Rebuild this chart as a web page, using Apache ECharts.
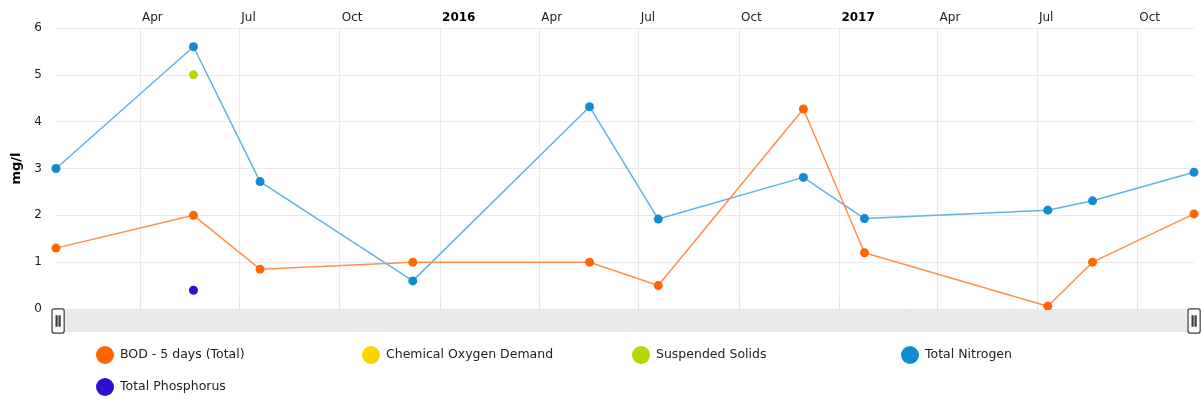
<!DOCTYPE html>
<html>
<head>
<meta charset="utf-8">
<script src="https://cdn.jsdelivr.net/npm/echarts@6/dist/echarts.min.js"></script>
<style>
html,body{margin:0;padding:0;background:#fff;}
#chart{width:1202px;height:401px;}
</style>
</head>
<body>
<div id="chart"></div>
<script>
// Sample dates shared by BOD and Total Nitrogen
var sampleDates = ['2015-01-14','2015-05-20','2015-07-20','2015-12-07','2016-05-17','2016-07-19','2016-11-29','2017-01-24','2017-07-11','2017-08-21','2017-11-22'];
var bodValues = [1.3, 2.0, 0.85, 1.0, 1.0, 0.5, 4.27, 1.2, 0.06, 1.0, 2.03];
var nitrogenValues = [3.0, 5.6, 2.72, 0.6, 4.32, 1.92, 2.81, 1.93, 2.11, 2.31, 2.92];
var codDates = [];
var codValues = [];
var ssDates = ['2015-05-20'];
var ssValues = [5.0];
var tpDates = ['2015-05-20'];
var tpValues = [0.4];
var seriesNames = ['BOD - 5 days (Total)','Chemical Oxygen Demand','Suspended Solids','Total Nitrogen','Total Phosphorus'];
var monthNames = ['Jan','Feb','Mar','Apr','May','Jun','Jul','Aug','Sep','Oct','Nov','Dec'];
var yTicks = [0,1,2,3,4,5,6];

function pairs(dates, vals){ return dates.map(function(d,i){ return [d, vals[i]]; }); }

var FONT = 'DejaVu Sans';
var chart = echarts.init(document.getElementById('chart'), null, {renderer:'canvas'});
var colors = ['#ff6600','#ffd200','#b3d900','#118cd2','#2b10d2'];
var lineColors = ['#ff8f4a', '#ffd200', '#b3d900', '#5db4e2', '#2b10d2'];

function mkSeries(idx, data, showLine){
  return {
    name: seriesNames[idx], type:'line', data:data,
    symbol:'circle', symbolSize:9, showSymbol:true,
    itemStyle:{color:colors[idx]},
    lineStyle: showLine ? {color:lineColors[idx], width:1.5} : {width:0, opacity:0},
    emphasis:{disabled:true}, animation:false, z: idx===0?3:2
  };
}

// legend slot layout (one legend per series)
var legendPos = [[96,346],[362,346],[632,346],[901,346],[96,378]];
var legends = seriesNames.map(function(n,i){
  return {
    show:true, left:legendPos[i][0], top:legendPos[i][1], padding:0,
    icon:'circle', itemWidth:18, itemHeight:18,
    data:[n], selectedMode:false,
    textStyle:{fontFamily:FONT, fontSize:12.5, color:'#222', padding:[0,0,0,1]}
  };
});

chart.setOption({
  animation:false,
  textStyle:{fontFamily:FONT},
  grid:{left:56, right:8, top:28, bottom:92, containLabel:false},
  xAxis:{
    type:'time', position:'top',
    min: sampleDates[0], max: sampleDates[sampleDates.length-1],
    minInterval: 89*86400000, maxInterval: 93*86400000,
    axisLine:{show:false},
    axisTick:{show:true, length:7, lineStyle:{color:'#e3e3e3'}},
    splitLine:{show:true, showMinLine:false, showMaxLine:false, lineStyle:{color:'#e9e9e9', width:1}},
    axisLabel:{
      showMinLabel:false, showMaxLabel:false,
      align:'left', margin:4, padding:[0,0,0,2],
      fontFamily:FONT, fontSize:12, color:'#222',
      formatter:function(v){
        var d = new Date(v);
        if (d.getMonth()===0) return '{y|'+d.getFullYear()+'}';
        return monthNames[d.getMonth()];
      },
      rich:{y:{fontWeight:'bold', color:'#000', fontFamily:FONT, fontSize:12}}
    }
  },
  yAxis:{
    type:'value', min:yTicks[0], max:yTicks[yTicks.length-1], interval:1,
    name:'mg/l', nameLocation:'middle', nameRotate:90, nameGap:33,
    nameTextStyle:{fontFamily:FONT, fontSize:13, fontWeight:'bold', color:'#000'},
    axisLine:{show:false}, axisTick:{show:false},
    axisLabel:{margin:14, fontFamily:FONT, fontSize:12, color:'#222'},
    splitLine:{lineStyle:{color:'#e9e9e9'}}
  },
  dataZoom:[{
    type:'slider', xAxisIndex:0, filterMode:'none', start:0, end:100,
    left:56, right:8, top:310, height:22,
    backgroundColor:'#ebebeb', borderColor:'rgba(0,0,0,0)', fillerColor:'rgba(0,0,0,0)',
    showDataShadow:false, showDetail:false, brushSelect:false, moveHandleSize:0,
    dataBackground:{lineStyle:{opacity:0}, areaStyle:{opacity:0}},
    selectedDataBackground:{lineStyle:{opacity:0}, areaStyle:{opacity:0}},
    handleIcon:'path://M2,0 L10,0 Q12,0 12,2 L12,22 Q12,24 10,24 L2,24 Q0,24 0,22 L0,2 Q0,0 2,0 Z M4,7 L5,7 L5,17 L4,17 Z M7,7 L8,7 L8,17 L7,17 Z',
    handleSize:'110%',
    handleStyle:{color:'#ffffff', borderColor:'#3a3a3a', borderWidth:1.2},
    emphasis:{handleStyle:{color:'#ffffff', borderColor:'#3a3a3a'}}
  }],
  legend: legends,
  series:[
    mkSeries(0, pairs(sampleDates, bodValues), true),
    mkSeries(1, pairs(codDates, codValues), true),
    mkSeries(2, pairs(ssDates, ssValues), false),
    mkSeries(3, pairs(sampleDates, nitrogenValues), true),
    mkSeries(4, pairs(tpDates, tpValues), false)
  ]
});
</script>
</body>
</html>
